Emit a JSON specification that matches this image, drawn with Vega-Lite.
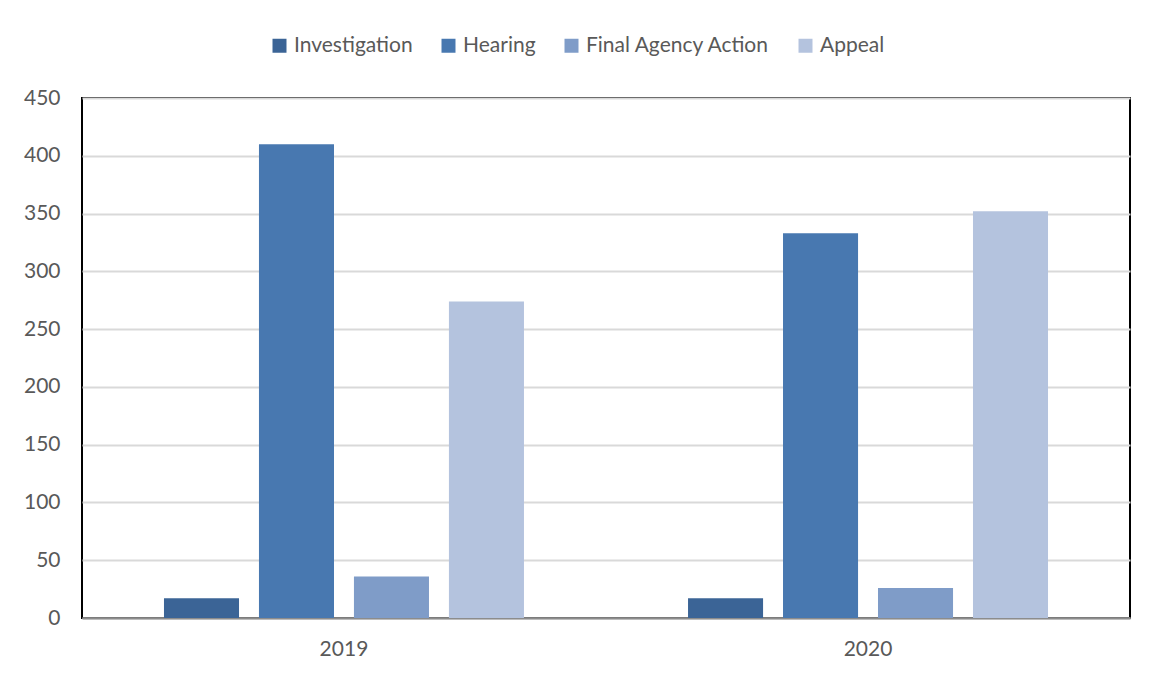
{
  "$schema": "https://vega.github.io/schema/vega-lite/v6.json",
  "width": 1048,
  "height": 520,
  "autosize": {"type": "none"},
  "padding": {"left": 82, "top": 98, "right": 24, "bottom": 61},
  "background": "white",
  "data": {
    "values": [
      {"year": "2019", "stage": "Investigation", "count": 17},
      {"year": "2019", "stage": "Hearing", "count": 410},
      {"year": "2019", "stage": "Final Agency Action", "count": 36},
      {"year": "2019", "stage": "Appeal", "count": 274},
      {"year": "2020", "stage": "Investigation", "count": 17},
      {"year": "2020", "stage": "Hearing", "count": 333},
      {"year": "2020", "stage": "Final Agency Action", "count": 26},
      {"year": "2020", "stage": "Appeal", "count": 352}
    ]
  },
  "mark": {"type": "bar"},
  "encoding": {
    "x": {
      "field": "year", "type": "nominal",
      "scale": {"paddingInner": 0.275, "paddingOuter": 0.1374},
      "axis": {"title": null, "labelAngle": 0, "ticks": false, "domainColor": "#8c8c8c", "domainWidth": 2, "labelPadding": 20, "labelFontSize": 21, "labelColor": "#595959", "labelFont": "Lato"}
    },
    "xOffset": {
      "field": "stage", "type": "nominal",
      "sort": ["Investigation", "Hearing", "Final Agency Action", "Appeal"],
      "scale": {"paddingInner": 0.21, "paddingOuter": 0.105}
    },
    "y": {
      "field": "count", "type": "quantitative",
      "scale": {"domain": [0, 450], "nice": false},
      "axis": {"title": null, "values": [0, 50, 100, 150, 200, 250, 300, 350, 400, 450], "ticks": false, "domain": false, "gridColor": "#d9d9d9", "gridWidth": 2, "labelPadding": 22, "labelFontSize": 21, "labelColor": "#595959", "labelFont": "Lato"}
    },
    "color": {
      "field": "stage", "type": "nominal",
      "sort": ["Investigation", "Hearing", "Final Agency Action", "Appeal"],
      "scale": {"domain": ["Investigation", "Hearing", "Final Agency Action", "Appeal"], "range": ["#3b6496", "#4878b0", "#7f9cc8", "#b4c3de"]},
      "legend": {
        "title": null, "orient": "none", "direction": "horizontal",
        "legendX": 187, "legendY": -63,
        "symbolType": "square", "symbolSize": 196, "symbolStrokeWidth": 0,
        "labelFontSize": 21, "labelColor": "#595959", "labelFont": "Lato", "labelLimit": 0,
        "columnPadding": 25, "labelOffset": 4
      }
    }
  },
  "config": {
    "view": {"stroke": "black", "strokeWidth": 2},
    "axis": {"gridCap": "butt"}
  }
}
